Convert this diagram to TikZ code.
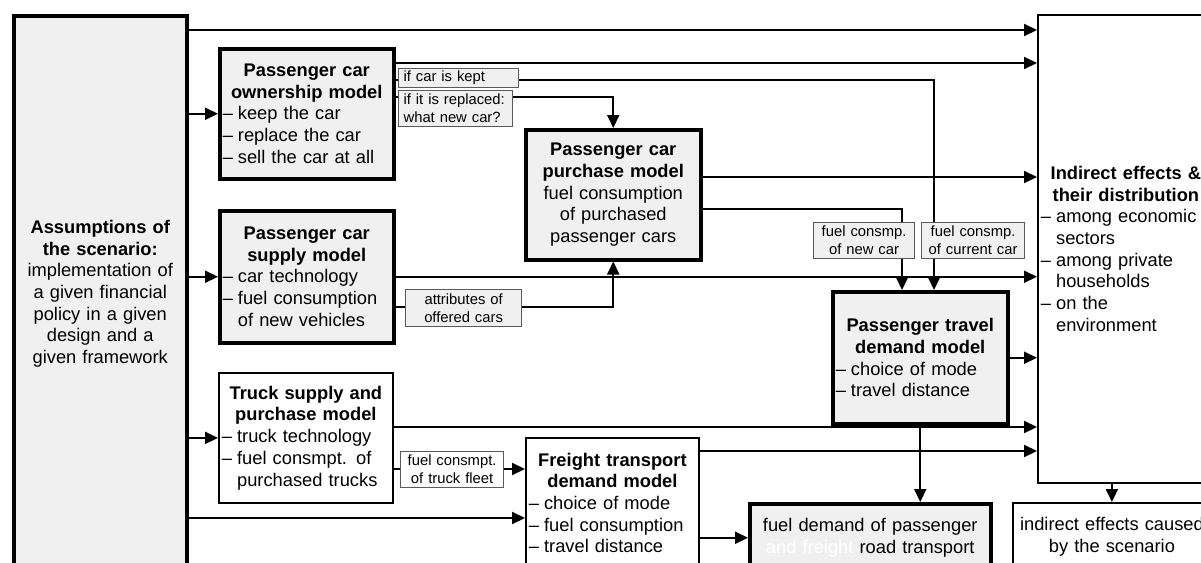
\documentclass[tikz,border=0pt]{standalone}
\usepackage{fontspec}
\setmainfont{Liberation Sans}
\usetikzlibrary{arrows.meta}

\definecolor{boxgray}{RGB}{240,240,240}
\definecolor{tagline}{RGB}{90,90,90}

\newcommand\modelfont{\fontsize{18.3}{21.7}\selectfont}
\newcommand\notefont{\fontsize{14.8}{18}\selectfont}
\newcommand\ttl[1]{{\centering\bfseries #1\par}}
\newcommand\ctr[1]{{\centering #1\par}}
\newcommand\itm[1]{{\raggedright\hangindent=0.83em\hangafter=1\noindent\makebox[0.83em][l]{--}#1\par}}

\tikzset{
  model/.style={draw, line width=3.5pt, fill=boxgray, anchor=north west,
    inner xsep=3pt, inner ysep=0pt, font=\modelfont},
  thinmodel/.style={model, line width=1.8pt, fill=white},
  tagbox/.style={draw=tagline, line width=1.2pt, fill=boxgray, anchor=north west,
    inner xsep=5pt, inner ysep=1pt, font=\notefont, align=center},
  flow/.style={line width=2pt, -{Triangle[length=13pt,width=12pt]}},
}

\begin{document}
\begin{tikzpicture}[x=1pt,y=-1pt]
  \useasboundingbox (0,0) rectangle (1201,562);
  \clip (0,0) rectangle (1201,562);

  %% boxes
  \node[model, text width=167pt, minimum height=556pt] (assume) at (12,14)
    {\ttl{Assumptions of\\the scenario:}\ctr{implementation of\\a given financial\\policy in a given\\design and a\\given framework}};
  \node[model, text width=168pt, minimum height=130pt] (own) at (218,47)
    {\ttl{Passenger car\\ownership model}\itm{keep the car}\itm{replace the car}\itm{sell the car at all}};
  \node[model, text width=168pt, minimum height=132pt] (supply) at (218,209)
    {\ttl{Passenger car\\supply model}\itm{car technology}\itm{fuel consumption\newline of new vehicles}};
  \node[thinmodel, text width=168pt, minimum height=130pt] (truck) at (218,372)
    {\ttl{Truck supply and\\purchase model}\itm{truck technology}\itm{fuel consmpt. of\newline purchased trucks}};
  \node[model, text width=169pt, minimum height=130pt] (purch) at (524,128)
    {\ttl{Passenger car\\purchase model}\ctr{fuel consumption\\of purchased\\passenger cars}};
  \node[model, text width=169pt, minimum height=132pt] (travel) at (831,290)
    {\ttl{Passenger travel\\demand model}\itm{choice of mode}\itm{travel distance}};
  \node[thinmodel, text width=167pt, minimum height=130pt] (freight) at (525,437)
    {\ttl{Freight transport\\demand model}\itm{choice of mode}\itm{fuel consumption}\itm{travel distance}};
  \node[model, text width=235pt, minimum height=68pt] (fuel) at (748,502)
    {\ctr{fuel demand of passenger\\\textcolor{white}{and freight}\ road transport}};
  \node[thinmodel, text width=170pt, minimum height=468pt] (indir) at (1037,14)
    {\ttl{Indirect effects \&\\their distribution}\itm{among economic\newline sectors}\itm{among private\newline households}\itm{on the\newline environment}};
  \node[thinmodel, text width=192pt, minimum height=68pt] (effects) at (1012,502)
    {\ctr{indirect effects caused\\by the scenario}};

  %% from the assumptions
  \draw[flow] (assume.east |- 0,30) -- (indir.west |- 0,30);
  \draw[flow] (assume.east |- own.west) -- (own.west);
  \draw[flow] (assume.east |- supply.west) -- (supply.west);
  \draw[flow] (assume.east |- truck.west) -- (truck.west);
  \draw[flow] (assume.east |- 0,518) -- (freight.west |- 0,518);

  %% passenger cars
  \draw[flow] (own.east |- 0,63) -- (indir.west |- 0,63);
  \draw[flow] (own.east |- 0,80) -| (934,0 |- travel.north);
  \draw[flow] (own.east |- 0,97) -| (purch.north);
  \draw[flow] (purch.east |- 0,177) -- (indir.west |- 0,177);
  \draw[flow] (purch.east |- 0,209) -| (902,0 |- travel.north);
  \draw[flow] (supply.east) -- (indir.west |- supply.east);
  \draw[flow] (supply.east |- 0,307) -| (purch.south);
  \draw[flow] (travel.east) -- (indir.west |- travel.east);
  \draw[flow] (travel.south) -- (travel.south |- fuel.north);

  %% trucks
  \draw[flow] (truck.east |- 0,427) -- (indir.west |- 0,427);
  \draw[flow] (truck.east |- 0,469) -- (freight.west |- 0,469);
  \draw[flow] (freight.east |- 0,451) -- (indir.west |- 0,451);
  \draw[flow] (freight.east |- fuel.west) -- (fuel.west);

  \draw[flow] (effects.north |- indir.south) -- (effects.north);

  %% labels on the lines
  \node[tagbox, text width=110pt, minimum height=19pt, align=left] (kept) at (398,68) {if car is kept};
  \node[tagbox, text width=104pt, minimum height=36pt, align=left] (replaced) at (398,90) {if it is replaced:\\what new car?};
  \node[tagbox, text width=91pt, minimum height=36pt] (newcar) at (813,222) {fuel consmp.\\of new car};
  \node[tagbox, text width=93pt, minimum height=36pt] (curcar) at (921,222) {fuel consmp.\\of current car};
  \node[tagbox, text width=106pt, minimum height=37pt] (offered) at (405,289) {attributes of\\offered cars};
  \node[tagbox, fill=white, text width=93pt, minimum height=36pt] (fleet) at (400,451) {fuel consmpt.\\of truck fleet};
\end{tikzpicture}
\end{document}
